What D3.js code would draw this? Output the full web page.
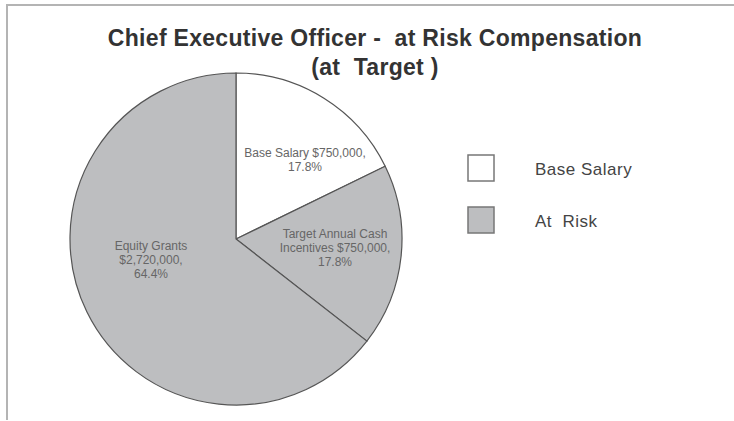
<!DOCTYPE html>
<html>
<head>
<meta charset="utf-8">
<script src="https://cdn.jsdelivr.net/npm/d3@7"></script>
<style>
body { margin: 0; background: #fff; }
text { font-family: "Liberation Sans", Arial, sans-serif; white-space: pre; }
</style>
</head>
<body>
<svg width="734" height="421"></svg>
<script>
// chart data
var categories = ["Base Salary", "Target Annual Cash Incentives", "Equity Grants"];
var amounts = [750000, 750000, 2720000];
var percents = ["17.8%", "17.8%", "64.4%"];
var groups = ["Base Salary", "At Risk", "At Risk"];
var legendLabels = ["Base Salary", "At  Risk"];

var svg = d3.select("svg");
var cx = 236, cy = 239, radius = 166;

var color = d3.scaleOrdinal()
		.domain(legendLabels)
		.range(["#ffffff", "#bdbec0"]);

// frame (top and left edges only show)
svg.append("path")
		.attr("d", "M7,420 L7,5 L734,5")
		.attr("fill", "none")
		.attr("stroke", "#b4b4b4")
		.attr("stroke-width", 2);

svg.append("text")
		.attr("x", 375).attr("y", 46)
		.attr("text-anchor", "middle")
		.attr("font-size", 23).attr("font-weight", "bold")
		.attr("letter-spacing", 0.3)
		.attr("fill", "#333")
		.text("Chief Executive Officer -  at Risk Compensation");
svg.append("text")
		.attr("x", 375).attr("y", 75)
		.attr("text-anchor", "middle")
		.attr("font-size", 23).attr("font-weight", "bold")
		.attr("letter-spacing", 0.3)
		.attr("fill", "#333")
		.text("(at  Target )");

var pie = d3.pie().sort(null).value(function(d) { return d; });
var arcs = pie(amounts);
var arc = d3.arc().innerRadius(0).outerRadius(radius);

var gist = svg.append("g").attr("transform", "translate(" + [cx, cy] + ")");

gist.selectAll("path")
		.data(arcs)
		.enter().append("path")
		.attr("d", arc)
		.attr("fill", function(d, i) { return groups[i] == "Base Salary" ? color(legendLabels[0]) : color(legendLabels[1]); })
		.attr("stroke", "#555")
		.attr("stroke-width", 1.2);

function money(v) { return "$" + d3.format(",")(v); }

// slice labels, wrapped as in the picture
var labelLines = [
	[categories[0] + " " + money(amounts[0]) + ",", percents[0]],
	["Target Annual Cash", "Incentives " + money(amounts[1]) + ",", percents[1]],
	[categories[2], money(amounts[2]) + ",", percents[2]]
];
var labelPos = [[69, -82], [99, -1], [-85, 11]];

labelLines.forEach(function(lines, i) {
	var t = gist.append("text")
			.attr("text-anchor", "middle")
			.attr("font-size", 12)
			.attr("fill", "#666")
			.attr("transform", "translate(" + labelPos[i] + ")");
	lines.forEach(function(s, j) {
		t.append("tspan").attr("x", 0).attr("dy", j == 0 ? 0 : 14).text(s);
	});
});

// legend
var legend = svg.append("g").attr("transform", "translate(468,155)");
legendLabels.forEach(function(lab, i) {
	var g = legend.append("g").attr("transform", "translate(" + [0, i * 52] + ")");
	g.append("rect")
			.attr("width", 26).attr("height", 26)
			.attr("fill", color(lab))
			.attr("stroke", "#777").attr("stroke-width", 1.5);
	g.append("text")
			.attr("x", 67).attr("y", 20)
			.attr("font-size", 17)
			.attr("letter-spacing", 0.5)
			.attr("fill", "#444")
			.text(lab);
});
</script>
</body>
</html>
